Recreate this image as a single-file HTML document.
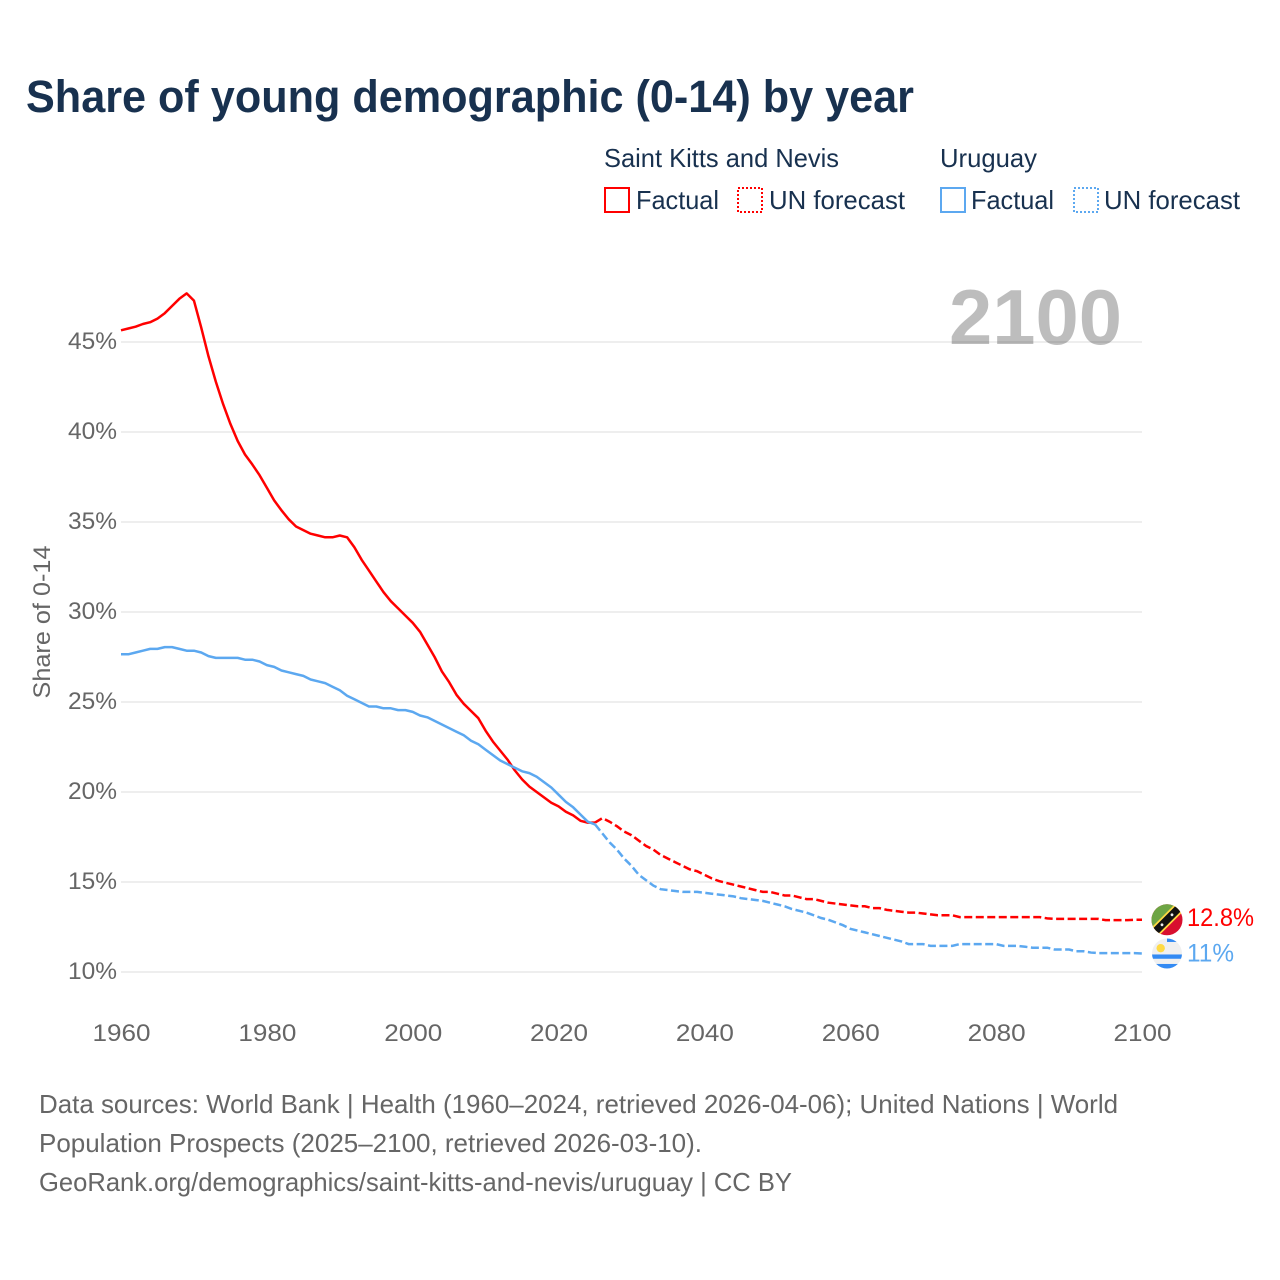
<!DOCTYPE html>
<html lang="en">
<head>
<meta charset="utf-8">
<title>Share of young demographic (0-14) by year</title>
<style>
html,body{margin:0;padding:0;background:#fff;}
svg{display:block;font-family:"Liberation Sans",sans-serif;}
</style>
</head>
<body>
<svg id="chart" width="1280" height="1280" viewBox="0 0 1280 1280" xmlns="http://www.w3.org/2000/svg">
  <defs>
    <clipPath id="clip-skn"><circle cx="0" cy="0" r="15.5"/></clipPath>
    <clipPath id="clip-ury"><circle cx="0" cy="0" r="15"/></clipPath>
  </defs>
  <rect width="1280" height="1280" fill="#fff"/>
  <text x="26" y="112" font-size="45" font-weight="700" fill="#18314f" textLength="888" lengthAdjust="spacingAndGlyphs">Share of young demographic (0-14) by year</text>

  <g id="legend">
    <text x="604" y="167" font-size="26" fill="#18314f" textLength="235" lengthAdjust="spacingAndGlyphs">Saint Kitts and Nevis</text>
    <text x="940" y="167" font-size="26" fill="#18314f" textLength="97" lengthAdjust="spacingAndGlyphs">Uruguay</text>
    <rect x="605" y="188" width="24" height="24" fill="none" stroke="#ff0000" stroke-width="2"/>
    <text x="636" y="209" font-size="26" fill="#18314f" textLength="83" lengthAdjust="spacingAndGlyphs">Factual</text>
    <rect x="738" y="188" width="24" height="24" fill="none" stroke="#ff0000" stroke-width="2" stroke-dasharray="2 2"/>
    <text x="769" y="209" font-size="26" fill="#18314f" textLength="136" lengthAdjust="spacingAndGlyphs">UN forecast</text>
    <rect x="941" y="188" width="24" height="24" fill="none" stroke="#5ca8f0" stroke-width="2"/>
    <text x="971" y="209" font-size="26" fill="#18314f" textLength="83" lengthAdjust="spacingAndGlyphs">Factual</text>
    <rect x="1074" y="188" width="24" height="24" fill="none" stroke="#5ca8f0" stroke-width="2" stroke-dasharray="2 2"/>
    <text x="1104" y="209" font-size="26" fill="#18314f" textLength="136" lengthAdjust="spacingAndGlyphs">UN forecast</text>
  </g>

  <g id="grid"></g>
  <g id="y-ticks"></g>
  <g id="x-ticks"></g>
  <text transform="translate(50 622) rotate(-90)" text-anchor="middle" font-size="24" fill="#666" textLength="153" lengthAdjust="spacingAndGlyphs">Share of 0-14</text>
  <text x="1122" y="344" text-anchor="end" font-size="78" font-weight="700" fill="#000" fill-opacity="0.26" textLength="173" lengthAdjust="spacingAndGlyphs">2100</text>
  <g id="series"></g>
  <g id="end-markers"></g>

  <g font-size="26" fill="#666">
    <text x="39" y="1113" textLength="1079" lengthAdjust="spacingAndGlyphs">Data sources: World Bank | Health (1960–2024, retrieved 2026-04-06); United Nations | World</text>
    <text x="39" y="1152" textLength="663" lengthAdjust="spacingAndGlyphs">Population Prospects (2025–2100, retrieved 2026-03-10).</text>
    <text x="39" y="1191" textLength="753" lengthAdjust="spacingAndGlyphs">GeoRank.org/demographics/saint-kitts-and-nevis/uruguay | CC BY</text>
  </g>
</svg>
<script>
const yTicks = [10, 15, 20, 25, 30, 35, 40, 45];
const xTicks = [1960, 1980, 2000, 2020, 2040, 2060, 2080, 2100];
const factualStartYear = 1960;
const forecastStartYear = 2025;
const kittsFactual = [45.65,45.75,45.85,46.0,46.1,46.3,46.6,47.0,47.4,47.7,47.3,45.8,44.2,42.8,41.55,40.45,39.5,38.75,38.2,37.6,36.9,36.2,35.65,35.15,34.75,34.55,34.35,34.25,34.15,34.15,34.25,34.15,33.6,32.9,32.3,31.7,31.1,30.6,30.2,29.8,29.4,28.9,28.2,27.5,26.7,26.1,25.4,24.9,24.5,24.1,23.4,22.8,22.3,21.8,21.2,20.7,20.3,20.0,19.7,19.4,19.2,18.9,18.7,18.4,18.3,18.3];
const kittsForecast = [18.3,18.55,18.35,18.1,17.8,17.6,17.3,17.0,16.8,16.5,16.3,16.1,15.9,15.7,15.6,15.4,15.2,15.05,14.95,14.85,14.75,14.65,14.55,14.45,14.45,14.35,14.25,14.25,14.15,14.05,14.05,13.95,13.85,13.8,13.75,13.7,13.65,13.65,13.55,13.55,13.45,13.4,13.35,13.3,13.3,13.25,13.2,13.15,13.15,13.15,13.05,13.05,13.05,13.05,13.05,13.05,13.05,13.05,13.05,13.05,13.05,13.05,12.98,12.95,12.95,12.95,12.95,12.95,12.95,12.95,12.88,12.88,12.88,12.88,12.9,12.9];
const uruguayFactual = [27.65,27.65,27.75,27.85,27.95,27.95,28.05,28.05,27.95,27.85,27.85,27.75,27.55,27.45,27.45,27.45,27.45,27.35,27.35,27.25,27.05,26.95,26.75,26.65,26.55,26.45,26.25,26.15,26.05,25.85,25.65,25.35,25.15,24.95,24.75,24.75,24.65,24.65,24.55,24.55,24.45,24.25,24.15,23.95,23.75,23.55,23.35,23.15,22.85,22.65,22.35,22.05,21.75,21.55,21.35,21.15,21.05,20.85,20.55,20.25,19.85,19.45,19.15,18.75,18.35,18.2];
const uruguayForecast = [18.2,17.7,17.2,16.8,16.3,15.9,15.4,15.1,14.8,14.6,14.55,14.5,14.45,14.45,14.45,14.4,14.35,14.3,14.25,14.2,14.1,14.05,14.0,13.95,13.85,13.75,13.65,13.5,13.4,13.3,13.15,13.0,12.9,12.75,12.6,12.4,12.3,12.2,12.1,12.0,11.9,11.8,11.7,11.55,11.55,11.55,11.45,11.45,11.45,11.45,11.55,11.55,11.55,11.55,11.55,11.55,11.45,11.45,11.45,11.4,11.35,11.35,11.35,11.25,11.25,11.25,11.15,11.15,11.08,11.05,11.05,11.05,11.05,11.05,11.05,11.03];
const endLabels = ["12.8%", "11%"];

const NS = 'http://www.w3.org/2000/svg';
const xScale = function (year) { return 121 + (year - 1960) * (1142 - 121) / 140; };
const yScale = function (v) { return 972 - (v - 10) * 18; };

function make(parent, tag, attrs, text) {
  const el = document.createElementNS(NS, tag);
  Object.keys(attrs).forEach(function (k) { el.setAttribute(k, attrs[k]); });
  if (text !== undefined) el.textContent = text;
  parent.appendChild(el);
  return el;
}

const gridG = document.getElementById('grid');
const yG = document.getElementById('y-ticks');
const xG = document.getElementById('x-ticks');
const seriesG = document.getElementById('series');
const endG = document.getElementById('end-markers');

yTicks.forEach(function (t) {
  const line = make(gridG, 'line', { x1: 121, x2: 1142, y1: yScale(t), y2: yScale(t), stroke: '#eeeeee', 'stroke-width': 2 });
  
  
  const label = make(yG, 'text', { x: 117, y: yScale(t) + 7, 'text-anchor': 'end', 'font-size': 24, fill: '#666', textLength: 49, lengthAdjust: 'spacingAndGlyphs' }, t + '%');
  
  
});

xTicks.forEach(function (t) {
  const label = make(xG, 'text', { x: xScale(t) + 0.5, y: 1041, 'text-anchor': 'middle', 'font-size': 24, fill: '#666', textLength: 58, lengthAdjust: 'spacingAndGlyphs' }, String(t));
  
  
});

function pathFrom(values, startYear) {
  return values.map(function (v, i) {
    return (i ? 'L' : 'M') + xScale(startYear + i).toFixed(2) + ' ' + yScale(v).toFixed(2);
  }).join('');
}

const kittsFactLine = make(seriesG, 'path', { d: pathFrom(kittsFactual, factualStartYear), fill: 'none', stroke: '#ff0000', 'stroke-width': 2.5, 'stroke-linejoin': 'round' });


const uruFactLine = make(seriesG, 'path', { d: pathFrom(uruguayFactual, factualStartYear), fill: 'none', stroke: '#5ca8f0', 'stroke-width': 2.5, 'stroke-linejoin': 'round' });


const kittsForeLine = make(seriesG, 'path', { d: pathFrom(kittsForecast, forecastStartYear), fill: 'none', stroke: '#ff0000', 'stroke-width': 2.5, 'stroke-dasharray': '8 3.5' });


const uruForeLine = make(seriesG, 'path', { d: pathFrom(uruguayForecast, forecastStartYear), fill: 'none', stroke: '#5ca8f0', 'stroke-width': 2.5, 'stroke-dasharray': '8 3.5' });



const kittsEndY = yScale(kittsForecast[kittsForecast.length - 1]);
const uruEndY = yScale(uruguayForecast[uruguayForecast.length - 1]);

const kittsFlag = make(endG, 'g', { transform: 'translate(1167 ' + kittsEndY + ')', 'clip-path': 'url(#clip-skn)' });


make(kittsFlag, 'rect', { x: -16, y: -16, width: 32, height: 32, fill: '#d80f2e' });
make(kittsFlag, 'path', { d: 'M-16 -16H16L-16 16Z', fill: '#6da544' });
make(kittsFlag, 'line', { x1: -16, y1: 16, x2: 16, y2: -16, stroke: '#ffda44', 'stroke-width': 11 });
make(kittsFlag, 'line', { x1: -16, y1: 16, x2: 16, y2: -16, stroke: '#111', 'stroke-width': 7.5 });
make(kittsFlag, 'circle', { cx: -5, cy: 5, r: 1.4, fill: '#eee' });
make(kittsFlag, 'circle', { cx: 5, cy: -5, r: 1.4, fill: '#eee' });

const uruFlag = make(endG, 'g', { transform: 'translate(1167 ' + uruEndY + ')', 'clip-path': 'url(#clip-ury)' });


make(uruFlag, 'rect', { x: -16, y: -16, width: 32, height: 32, fill: '#f0f0f0' });
make(uruFlag, 'rect', { x: 0, y: -16, width: 16, height: 4.5, fill: '#338af3' });
make(uruFlag, 'rect', { x: -16, y: 1, width: 32, height: 4.3, fill: '#338af3' });
make(uruFlag, 'rect', { x: -16, y: 10.5, width: 32, height: 6, fill: '#338af3' });
make(uruFlag, 'circle', { cx: -6.3, cy: -5.3, r: 4.2, fill: '#ffda44' });

const kittsLabel = make(endG, 'text', { x: 1187, y: kittsEndY + 6, 'font-size': 25, fill: '#ff0000', textLength: 67, lengthAdjust: 'spacingAndGlyphs' }, endLabels[0]);


const uruLabel = make(endG, 'text', { x: 1187, y: uruEndY + 8, 'font-size': 25, fill: '#5ca8f0', textLength: 47, lengthAdjust: 'spacingAndGlyphs' }, endLabels[1]);


</script>
</body>
</html>
